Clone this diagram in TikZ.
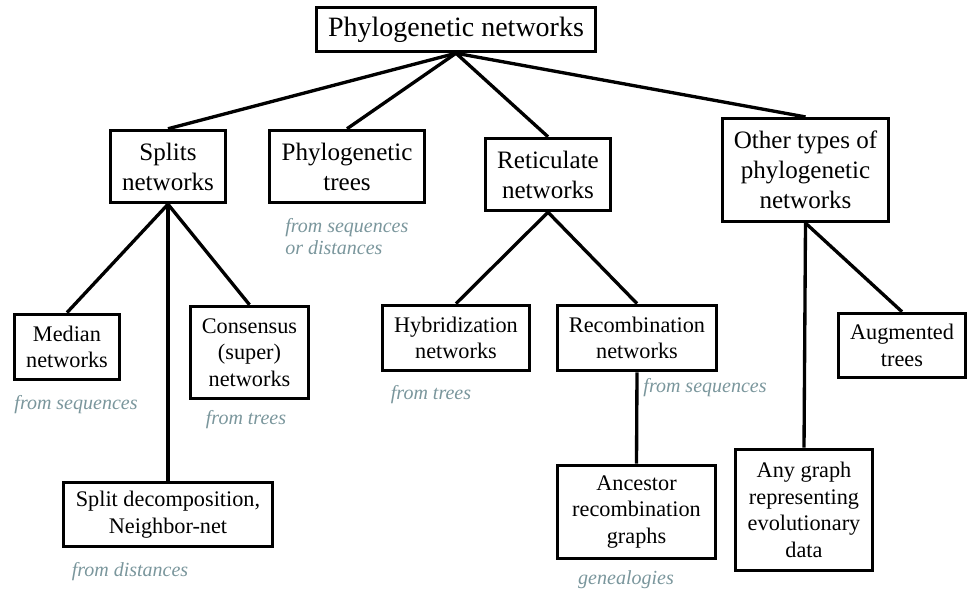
\documentclass[tikz,border=0pt]{standalone}
\usepackage{fontspec}
\setmainfont{Liberation Serif}
\definecolor{notegray}{RGB}{122,150,156}
\tikzset{
  box/.style={draw=black, line width=2.6pt, fill=white, align=center, inner sep=0pt},
  topbox/.style={box, font=\fontsize{21}{25}\selectfont},
  midbox/.style={box, font=\fontsize{18.8}{22.5}\selectfont},
  leafbox/.style={box, font=\fontsize{16.7}{20}\selectfont},
  note/.style={text=notegray, font=\itshape\fontsize{15}{16.5}\selectfont, inner sep=0pt, align=left},
  link/.style={draw=black, line width=2.5pt}
}
\begin{document}
\begin{tikzpicture}[x=0.75pt,y=-0.75pt]
\useasboundingbox (0,0) rectangle (969,592);

% root
\node[topbox, minimum width=209pt, minimum height=33pt] (root) at (456,29.5) {Phylogenetic networks};

% first level
\node[midbox, minimum width=86pt, minimum height=54pt] (splits) at (168,166.5) {Splits\\networks};
\node[midbox, minimum width=116pt, minimum height=54pt] (ptrees) at (347,166.5) {Phylogenetic\\trees};
\node[midbox, minimum width=94pt, minimum height=54pt] (retic) at (548,174.5) {Reticulate\\networks};
\node[midbox, minimum width=124.5pt, minimum height=77pt] (other) at (805.5,170) {Other types of\\phylogenetic\\networks};

% second level
\node[leafbox, minimum width=79pt, minimum height=49pt] (median) at (67,347) {Median\\networks};
\node[leafbox, minimum width=88.5pt, minimum height=69pt] (consensus) at (249.5,352.5) {Consensus\\(super)\\networks};
\node[leafbox, minimum width=157pt, minimum height=48pt] (splitdec) at (168,514.5) {Split decomposition,\\Neighbor-net};
\node[leafbox, minimum width=110pt, minimum height=49pt] (hybrid) at (456,338) {Hybridization\\networks};
\node[leafbox, minimum width=119pt, minimum height=49pt] (recomb) at (637,338) {Recombination\\networks};
\node[leafbox, minimum width=118.5pt, minimum height=70pt] (ancestor) at (636.5,512) {Ancestor\\recombination\\graphs};
\node[leafbox, minimum width=103pt, minimum height=91pt] (anygraph) at (804,510) {Any graph\\representing\\evolutionary\\data};
\node[leafbox, minimum width=95pt, minimum height=48pt] (augmented) at (902,345.5) {Augmented\\trees};

% data sources
\node[note] (n1) at (76,405) {from sequences};
\node[note] (n2) at (246,420) {from trees};
\node[note] (n3) at (130,572) {from distances};
\node[note, anchor=west] (n4) at (285,237) {from sequences\\or distances};
\node[note] (n5) at (431,395) {from trees};
\node[note] (n6) at (705,388) {from sequences};
\node[note] (n7) at (626,580) {genealogies};

% connectors
\draw[link] (root.south) -- (splits.north);
\draw[link] (root.south) -- (ptrees.north);
\draw[link] (root.south) -- (retic.north);
\draw[link] (root.south) -- (other.north);
\draw[link] (splits.south) -- (median.north);
\draw[link] (splits.south) -- (consensus.north);
\draw[link] (splits.south) -- (splitdec.north);
\draw[link] (retic.south) -- (hybrid.north);
\draw[link] (retic.south) -- (recomb.north);
\draw[link] (recomb.south) -- (ancestor.north);
\draw[link] (other.south) -- (anygraph.north);
\draw[link] (other.south) -- (augmented.north);
\end{tikzpicture}
\end{document}
